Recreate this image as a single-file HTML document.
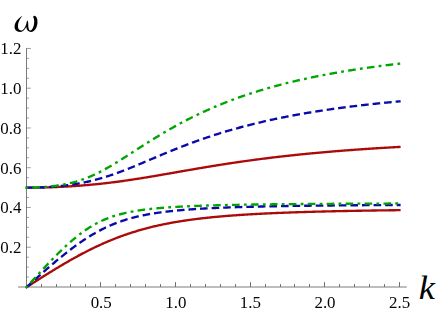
<!DOCTYPE html>
<html><head><meta charset="utf-8"><title>plot</title>
<style>
html,body{margin:0;padding:0;background:#fff;}
body{width:436px;height:311px;overflow:hidden;}
svg{display:block;}
text{font-family:"Liberation Serif",serif;fill:#000;}
</style></head><body>
<svg width="436" height="311" viewBox="0 0 436 311">
<rect width="436" height="311" fill="#fff"/>
<g stroke="#7c7c7c" stroke-width="1" fill="none">
<line x1="18.0" y1="287.0" x2="406.8" y2="287.0"/>
<line x1="26.5" y1="48.2" x2="26.5" y2="288.6"/>
</g>
<g stroke="#666" stroke-width="0.65" fill="none">
<line stroke="#707070" stroke-width="1" x1="41.50" y1="287.0" x2="41.50" y2="284.1"/>
<line stroke="#707070" stroke-width="1" x1="56.50" y1="287.0" x2="56.50" y2="284.1"/>
<line stroke="#707070" stroke-width="1" x1="70.50" y1="287.0" x2="70.50" y2="284.1"/>
<line stroke="#707070" stroke-width="1" x1="85.50" y1="287.0" x2="85.50" y2="284.1"/>
<line stroke="#707070" stroke-width="1" x1="100.50" y1="287.0" x2="100.50" y2="282.1"/>
<line stroke="#707070" stroke-width="1" x1="115.50" y1="287.0" x2="115.50" y2="284.1"/>
<line stroke="#707070" stroke-width="1" x1="130.50" y1="287.0" x2="130.50" y2="284.1"/>
<line stroke="#707070" stroke-width="1" x1="145.50" y1="287.0" x2="145.50" y2="284.1"/>
<line stroke="#707070" stroke-width="1" x1="160.50" y1="287.0" x2="160.50" y2="284.1"/>
<line stroke="#707070" stroke-width="1" x1="175.50" y1="287.0" x2="175.50" y2="282.1"/>
<line stroke="#707070" stroke-width="1" x1="190.50" y1="287.0" x2="190.50" y2="284.1"/>
<line stroke="#707070" stroke-width="1" x1="205.50" y1="287.0" x2="205.50" y2="284.1"/>
<line stroke="#707070" stroke-width="1" x1="220.50" y1="287.0" x2="220.50" y2="284.1"/>
<line stroke="#707070" stroke-width="1" x1="235.50" y1="287.0" x2="235.50" y2="284.1"/>
<line stroke="#707070" stroke-width="1" x1="250.50" y1="287.0" x2="250.50" y2="282.1"/>
<line stroke="#707070" stroke-width="1" x1="265.50" y1="287.0" x2="265.50" y2="284.1"/>
<line stroke="#707070" stroke-width="1" x1="280.50" y1="287.0" x2="280.50" y2="284.1"/>
<line stroke="#707070" stroke-width="1" x1="294.50" y1="287.0" x2="294.50" y2="284.1"/>
<line stroke="#707070" stroke-width="1" x1="309.50" y1="287.0" x2="309.50" y2="284.1"/>
<line stroke="#707070" stroke-width="1" x1="324.50" y1="287.0" x2="324.50" y2="282.1"/>
<line stroke="#707070" stroke-width="1" x1="339.50" y1="287.0" x2="339.50" y2="284.1"/>
<line stroke="#707070" stroke-width="1" x1="354.50" y1="287.0" x2="354.50" y2="284.1"/>
<line stroke="#707070" stroke-width="1" x1="369.50" y1="287.0" x2="369.50" y2="284.1"/>
<line stroke="#707070" stroke-width="1" x1="384.50" y1="287.0" x2="384.50" y2="284.1"/>
<line stroke="#707070" stroke-width="1" x1="399.50" y1="287.0" x2="399.50" y2="282.1"/>
<line x1="26.5" y1="277.06" x2="28.8" y2="277.06"/>
<line x1="26.5" y1="267.12" x2="28.8" y2="267.12"/>
<line x1="26.5" y1="257.18" x2="28.8" y2="257.18"/>
<line x1="26.5" y1="247.24" x2="30.8" y2="247.24"/>
<line x1="26.5" y1="237.30" x2="28.8" y2="237.30"/>
<line x1="26.5" y1="227.36" x2="28.8" y2="227.36"/>
<line x1="26.5" y1="217.42" x2="28.8" y2="217.42"/>
<line x1="26.5" y1="207.48" x2="30.8" y2="207.48"/>
<line x1="26.5" y1="197.54" x2="28.8" y2="197.54"/>
<line x1="26.5" y1="187.60" x2="28.8" y2="187.60"/>
<line x1="26.5" y1="177.66" x2="28.8" y2="177.66"/>
<line x1="26.5" y1="167.72" x2="30.8" y2="167.72"/>
<line x1="26.5" y1="157.78" x2="28.8" y2="157.78"/>
<line x1="26.5" y1="147.84" x2="28.8" y2="147.84"/>
<line x1="26.5" y1="137.90" x2="28.8" y2="137.90"/>
<line x1="26.5" y1="127.96" x2="30.8" y2="127.96"/>
<line x1="26.5" y1="118.02" x2="28.8" y2="118.02"/>
<line x1="26.5" y1="108.08" x2="28.8" y2="108.08"/>
<line x1="26.5" y1="98.14" x2="28.8" y2="98.14"/>
<line x1="26.5" y1="88.20" x2="30.8" y2="88.20"/>
<line x1="26.5" y1="78.26" x2="28.8" y2="78.26"/>
<line x1="26.5" y1="68.32" x2="28.8" y2="68.32"/>
<line x1="26.5" y1="58.38" x2="28.8" y2="58.38"/>
<line x1="26.5" y1="48.44" x2="30.8" y2="48.44"/>
</g>
<g font-size="17.4" opacity="0.99">
<text transform="translate(21.5,253.14) scale(0.972,1)" text-anchor="end">0.2</text>
<text transform="translate(21.5,213.38) scale(0.972,1)" text-anchor="end">0.4</text>
<text transform="translate(21.5,173.62) scale(0.972,1)" text-anchor="end">0.6</text>
<text transform="translate(21.5,133.86) scale(0.972,1)" text-anchor="end">0.8</text>
<text transform="translate(21.5,94.10) scale(0.972,1)" text-anchor="end">1.0</text>
<text transform="translate(21.5,54.34) scale(0.972,1)" text-anchor="end">1.2</text>
<text transform="translate(101.20,307.6) scale(0.972,1)" text-anchor="middle">0.5</text>
<text transform="translate(175.80,307.6) scale(0.972,1)" text-anchor="middle">1.0</text>
<text transform="translate(250.40,307.6) scale(0.972,1)" text-anchor="middle">1.5</text>
<text transform="translate(325.00,307.6) scale(0.972,1)" text-anchor="middle">2.0</text>
<text transform="translate(399.60,307.6) scale(0.972,1)" text-anchor="middle">2.5</text>
</g>
<g opacity="0.99" font-size="33" font-style="italic" text-anchor="middle">
<text transform="translate(426.8,299.2) scale(1.10,1)">k</text>
</g>
<g transform="translate(8,8) scale(0.096386)">
<path fill="#000" d="M150,84 C105,105 68,150 68,195 C68,228 92,248 122,248 C150,248 172,228 190,196 C192,225 210,248 238,248 C280,248 306,195 306,145 C306,110 296,88 282,82 C270,78 258,88 262,98 C268,102 272,115 272,140 C272,185 252,234 232,234 C216,234 210,200 210,165 C210,150 208,138 203,130 C198,130 194,140 192,155 C184,195 160,234 135,234 C112,234 103,212 103,188 C103,150 125,110 150,84 Z"/>
</g>
<g stroke-linecap="butt" stroke-linejoin="round">
<path d="M26.70,287.05 L27.63,286.45 L28.57,285.86 L29.50,285.26 L30.44,284.66 L31.37,284.06 L32.31,283.47 L33.24,282.87 L34.18,282.28 L35.11,281.68 L36.05,281.09 L36.98,280.49 L37.92,279.90 L38.85,279.31 L39.79,278.72 L40.72,278.12 L41.66,277.53 L42.59,276.95 L43.53,276.36 L44.46,275.77 L45.40,275.19 L46.33,274.60 L47.27,274.02 L48.20,273.44 L49.14,272.86 L50.07,272.28 L51.01,271.70 L51.94,271.13 L52.88,270.56 L53.81,269.98 L54.75,269.41 L55.68,268.85 L56.61,268.28 L57.55,267.72 L58.48,267.15 L59.42,266.59 L60.35,266.04 L61.29,265.48 L62.22,264.93 L63.16,264.38 L64.09,263.83 L65.03,263.28 L65.96,262.74 L66.90,262.19 L67.83,261.66 L68.77,261.12 L69.70,260.58 L70.64,260.05 L71.57,259.53 L72.51,259.00 L73.44,258.48 L74.38,257.96 L75.31,257.44 L76.25,256.93 L77.18,256.41 L78.12,255.91 L79.05,255.40 L79.99,254.90 L80.92,254.40 L81.86,253.90 L82.79,253.41 L83.73,252.92 L84.66,252.44 L85.59,251.95 L86.53,251.47 L87.46,251.00 L88.40,250.53 L89.33,250.06 L90.27,249.59 L91.20,249.13 L92.14,248.67 L93.07,248.21 L94.01,247.76 L94.94,247.31 L95.88,246.87 L96.81,246.43 L97.75,245.99 L98.68,245.56 L99.62,245.13 L100.55,244.70 L101.49,244.28 L102.42,243.86 L103.36,243.44 L104.29,243.03 L105.23,242.62 L106.16,242.22 L107.10,241.82 L108.03,241.42 L108.97,241.03 L109.90,240.64 L110.84,240.26 L111.77,239.87 L112.71,239.50 L113.64,239.12 L114.57,238.75 L115.51,238.39 L116.44,238.02 L117.38,237.66 L118.31,237.31 L119.25,236.96 L120.18,236.61 L121.12,236.27 L122.05,235.93 L122.99,235.59 L123.92,235.26 L124.86,234.93 L125.79,234.60 L126.73,234.28 L127.66,233.96 L128.60,233.65 L129.53,233.34 L130.47,233.03 L131.40,232.73 L132.34,232.43 L133.27,232.13 L134.21,231.84 L135.14,231.55 L136.08,231.27 L137.01,230.99 L137.95,230.71 L138.88,230.43 L139.82,230.16 L140.75,229.89 L141.68,229.63 L142.62,229.37 L143.55,229.11 L144.49,228.85 L145.42,228.60 L146.36,228.35 L147.29,228.11 L148.23,227.87 L149.16,227.63 L150.10,227.39 L151.03,227.16 L151.97,226.93 L152.90,226.71 L153.84,226.48 L154.77,226.26 L155.71,226.05 L156.64,225.83 L157.58,225.62 L158.51,225.41 L159.45,225.21 L160.38,225.00 L161.32,224.80 L162.25,224.61 L163.19,224.41 L164.12,224.22 L165.06,224.03 L165.99,223.84 L166.93,223.66 L167.86,223.48 L168.80,223.30 L169.73,223.12 L170.66,222.95 L171.60,222.78 L172.53,222.61 L173.47,222.44 L174.40,222.28 L175.34,222.11 L176.27,221.95 L177.21,221.80 L178.14,221.64 L179.08,221.49 L180.01,221.34 L180.95,221.19 L181.88,221.04 L182.82,220.89 L183.75,220.75 L184.69,220.61 L185.62,220.47 L186.56,220.34 L187.49,220.20 L188.43,220.07 L189.36,219.94 L190.30,219.81 L191.23,219.68 L192.17,219.55 L193.10,219.43 L194.04,219.31 L194.97,219.19 L195.91,219.07 L196.84,218.95 L197.78,218.83 L198.71,218.72 L199.64,218.61 L200.58,218.50 L201.51,218.39 L202.45,218.28 L203.38,218.17 L204.32,218.07 L205.25,217.97 L206.19,217.86 L207.12,217.76 L208.06,217.66 L208.99,217.57 L209.93,217.47 L210.86,217.37 L211.80,217.28 L212.73,217.19 L213.67,217.10 L214.60,217.01 L215.54,216.92 L216.47,216.83 L217.41,216.74 L218.34,216.66 L219.28,216.57 L220.21,216.49 L221.15,216.41 L222.08,216.33 L223.02,216.25 L223.95,216.17 L224.89,216.09 L225.82,216.01 L226.76,215.94 L227.69,215.86 L228.62,215.79 L229.56,215.72 L230.49,215.65 L231.43,215.57 L232.36,215.50 L233.30,215.44 L234.23,215.37 L235.17,215.30 L236.10,215.23 L237.04,215.17 L237.97,215.10 L238.91,215.04 L239.84,214.98 L240.78,214.91 L241.71,214.85 L242.65,214.79 L243.58,214.73 L244.52,214.67 L245.45,214.61 L246.39,214.56 L247.32,214.50 L248.26,214.44 L249.19,214.39 L250.13,214.33 L251.06,214.28 L252.00,214.22 L252.93,214.17 L253.87,214.12 L254.80,214.07 L255.74,214.01 L256.67,213.96 L257.60,213.91 L258.54,213.86 L259.47,213.82 L260.41,213.77 L261.34,213.72 L262.28,213.67 L263.21,213.63 L264.15,213.58 L265.08,213.53 L266.02,213.49 L266.95,213.45 L267.89,213.40 L268.82,213.36 L269.76,213.32 L270.69,213.27 L271.63,213.23 L272.56,213.19 L273.50,213.15 L274.43,213.11 L275.37,213.07 L276.30,213.03 L277.24,212.99 L278.17,212.95 L279.11,212.91 L280.04,212.87 L280.98,212.84 L281.91,212.80 L282.85,212.76 L283.78,212.73 L284.72,212.69 L285.65,212.66 L286.58,212.62 L287.52,212.59 L288.45,212.55 L289.39,212.52 L290.32,212.48 L291.26,212.45 L292.19,212.42 L293.13,212.39 L294.06,212.35 L295.00,212.32 L295.93,212.29 L296.87,212.26 L297.80,212.23 L298.74,212.20 L299.67,212.17 L300.61,212.14 L301.54,212.11 L302.48,212.08 L303.41,212.05 L304.35,212.02 L305.28,211.99 L306.22,211.97 L307.15,211.94 L308.09,211.91 L309.02,211.88 L309.96,211.86 L310.89,211.83 L311.83,211.80 L312.76,211.78 L313.69,211.75 L314.63,211.73 L315.56,211.70 L316.50,211.67 L317.43,211.65 L318.37,211.63 L319.30,211.60 L320.24,211.58 L321.17,211.55 L322.11,211.53 L323.04,211.51 L323.98,211.48 L324.91,211.46 L325.85,211.44 L326.78,211.41 L327.72,211.39 L328.65,211.37 L329.59,211.35 L330.52,211.33 L331.46,211.30 L332.39,211.28 L333.33,211.26 L334.26,211.24 L335.20,211.22 L336.13,211.20 L337.07,211.18 L338.00,211.16 L338.94,211.14 L339.87,211.12 L340.81,211.10 L341.74,211.08 L342.67,211.06 L343.61,211.04 L344.54,211.02 L345.48,211.00 L346.41,210.99 L347.35,210.97 L348.28,210.95 L349.22,210.93 L350.15,210.91 L351.09,210.89 L352.02,210.88 L352.96,210.86 L353.89,210.84 L354.83,210.83 L355.76,210.81 L356.70,210.79 L357.63,210.77 L358.57,210.76 L359.50,210.74 L360.44,210.73 L361.37,210.71 L362.31,210.69 L363.24,210.68 L364.18,210.66 L365.11,210.65 L366.05,210.63 L366.98,210.62 L367.92,210.60 L368.85,210.58 L369.79,210.57 L370.72,210.56 L371.65,210.54 L372.59,210.53 L373.52,210.51 L374.46,210.50 L375.39,210.48 L376.33,210.47 L377.26,210.45 L378.20,210.44 L379.13,210.43 L380.07,210.41 L381.00,210.40 L381.94,210.39 L382.87,210.37 L383.81,210.36 L384.74,210.35 L385.68,210.33 L386.61,210.32 L387.55,210.31 L388.48,210.30 L389.42,210.28 L390.35,210.27 L391.29,210.26 L392.22,210.25 L393.16,210.23 L394.09,210.22 L395.03,210.21 L395.96,210.20 L396.90,210.19 L397.83,210.17 L398.77,210.16 L399.70,210.15 L400.60,210.14" fill="none" stroke="#aa0a0a" stroke-width="2.35" />
<path d="M26.70,187.65 L27.63,187.65 L28.57,187.65 L29.50,187.64 L30.44,187.64 L31.37,187.64 L32.31,187.63 L33.24,187.62 L34.18,187.61 L35.11,187.60 L36.05,187.59 L36.98,187.58 L37.92,187.56 L38.85,187.55 L39.79,187.53 L40.72,187.52 L41.66,187.50 L42.59,187.48 L43.53,187.46 L44.46,187.43 L45.40,187.41 L46.33,187.39 L47.27,187.36 L48.20,187.33 L49.14,187.30 L50.07,187.27 L51.01,187.24 L51.94,187.21 L52.88,187.18 L53.81,187.14 L54.75,187.11 L55.68,187.07 L56.61,187.03 L57.55,186.99 L58.48,186.95 L59.42,186.91 L60.35,186.87 L61.29,186.82 L62.22,186.78 L63.16,186.73 L64.09,186.68 L65.03,186.63 L65.96,186.58 L66.90,186.53 L67.83,186.47 L68.77,186.42 L69.70,186.36 L70.64,186.30 L71.57,186.24 L72.51,186.18 L73.44,186.12 L74.38,186.06 L75.31,186.00 L76.25,185.93 L77.18,185.86 L78.12,185.80 L79.05,185.73 L79.99,185.66 L80.92,185.58 L81.86,185.51 L82.79,185.44 L83.73,185.36 L84.66,185.28 L85.59,185.20 L86.53,185.12 L87.46,185.04 L88.40,184.96 L89.33,184.87 L90.27,184.79 L91.20,184.70 L92.14,184.61 L93.07,184.52 L94.01,184.43 L94.94,184.34 L95.88,184.25 L96.81,184.15 L97.75,184.06 L98.68,183.96 L99.62,183.86 L100.55,183.76 L101.49,183.66 L102.42,183.55 L103.36,183.45 L104.29,183.34 L105.23,183.24 L106.16,183.13 L107.10,183.02 L108.03,182.91 L108.97,182.80 L109.90,182.68 L110.84,182.57 L111.77,182.45 L112.71,182.34 L113.64,182.22 L114.57,182.10 L115.51,181.98 L116.44,181.85 L117.38,181.73 L118.31,181.61 L119.25,181.48 L120.18,181.35 L121.12,181.23 L122.05,181.10 L122.99,180.97 L123.92,180.83 L124.86,180.70 L125.79,180.57 L126.73,180.43 L127.66,180.30 L128.60,180.16 L129.53,180.02 L130.47,179.88 L131.40,179.74 L132.34,179.60 L133.27,179.46 L134.21,179.32 L135.14,179.17 L136.08,179.03 L137.01,178.88 L137.95,178.74 L138.88,178.59 L139.82,178.44 L140.75,178.29 L141.68,178.14 L142.62,177.99 L143.55,177.84 L144.49,177.69 L145.42,177.54 L146.36,177.38 L147.29,177.23 L148.23,177.08 L149.16,176.92 L150.10,176.76 L151.03,176.61 L151.97,176.45 L152.90,176.29 L153.84,176.14 L154.77,175.98 L155.71,175.82 L156.64,175.66 L157.58,175.50 L158.51,175.34 L159.45,175.18 L160.38,175.02 L161.32,174.86 L162.25,174.69 L163.19,174.53 L164.12,174.37 L165.06,174.21 L165.99,174.05 L166.93,173.88 L167.86,173.72 L168.80,173.56 L169.73,173.39 L170.66,173.23 L171.60,173.07 L172.53,172.90 L173.47,172.74 L174.40,172.57 L175.34,172.41 L176.27,172.25 L177.21,172.08 L178.14,171.92 L179.08,171.76 L180.01,171.59 L180.95,171.43 L181.88,171.27 L182.82,171.10 L183.75,170.94 L184.69,170.78 L185.62,170.61 L186.56,170.45 L187.49,170.29 L188.43,170.13 L189.36,169.96 L190.30,169.80 L191.23,169.64 L192.17,169.48 L193.10,169.32 L194.04,169.16 L194.97,169.00 L195.91,168.84 L196.84,168.68 L197.78,168.52 L198.71,168.36 L199.64,168.20 L200.58,168.04 L201.51,167.89 L202.45,167.73 L203.38,167.57 L204.32,167.42 L205.25,167.26 L206.19,167.10 L207.12,166.95 L208.06,166.79 L208.99,166.64 L209.93,166.49 L210.86,166.33 L211.80,166.18 L212.73,166.03 L213.67,165.88 L214.60,165.73 L215.54,165.57 L216.47,165.42 L217.41,165.28 L218.34,165.13 L219.28,164.98 L220.21,164.83 L221.15,164.68 L222.08,164.54 L223.02,164.39 L223.95,164.24 L224.89,164.10 L225.82,163.95 L226.76,163.81 L227.69,163.67 L228.62,163.53 L229.56,163.38 L230.49,163.24 L231.43,163.10 L232.36,162.96 L233.30,162.82 L234.23,162.68 L235.17,162.54 L236.10,162.41 L237.04,162.27 L237.97,162.13 L238.91,162.00 L239.84,161.86 L240.78,161.73 L241.71,161.59 L242.65,161.46 L243.58,161.33 L244.52,161.20 L245.45,161.07 L246.39,160.94 L247.32,160.81 L248.26,160.68 L249.19,160.55 L250.13,160.42 L251.06,160.29 L252.00,160.17 L252.93,160.04 L253.87,159.91 L254.80,159.79 L255.74,159.66 L256.67,159.54 L257.60,159.42 L258.54,159.30 L259.47,159.17 L260.41,159.05 L261.34,158.93 L262.28,158.81 L263.21,158.69 L264.15,158.58 L265.08,158.46 L266.02,158.34 L266.95,158.22 L267.89,158.11 L268.82,157.99 L269.76,157.88 L270.69,157.76 L271.63,157.65 L272.56,157.54 L273.50,157.43 L274.43,157.31 L275.37,157.20 L276.30,157.09 L277.24,156.98 L278.17,156.87 L279.11,156.77 L280.04,156.66 L280.98,156.55 L281.91,156.44 L282.85,156.34 L283.78,156.23 L284.72,156.13 L285.65,156.02 L286.58,155.92 L287.52,155.82 L288.45,155.71 L289.39,155.61 L290.32,155.51 L291.26,155.41 L292.19,155.31 L293.13,155.21 L294.06,155.11 L295.00,155.01 L295.93,154.91 L296.87,154.82 L297.80,154.72 L298.74,154.62 L299.67,154.53 L300.61,154.43 L301.54,154.34 L302.48,154.24 L303.41,154.15 L304.35,154.06 L305.28,153.96 L306.22,153.87 L307.15,153.78 L308.09,153.69 L309.02,153.60 L309.96,153.51 L310.89,153.42 L311.83,153.33 L312.76,153.24 L313.69,153.15 L314.63,153.07 L315.56,152.98 L316.50,152.89 L317.43,152.81 L318.37,152.72 L319.30,152.64 L320.24,152.55 L321.17,152.47 L322.11,152.39 L323.04,152.30 L323.98,152.22 L324.91,152.14 L325.85,152.06 L326.78,151.98 L327.72,151.90 L328.65,151.82 L329.59,151.74 L330.52,151.66 L331.46,151.58 L332.39,151.50 L333.33,151.42 L334.26,151.35 L335.20,151.27 L336.13,151.19 L337.07,151.12 L338.00,151.04 L338.94,150.97 L339.87,150.89 L340.81,150.82 L341.74,150.74 L342.67,150.67 L343.61,150.60 L344.54,150.53 L345.48,150.45 L346.41,150.38 L347.35,150.31 L348.28,150.24 L349.22,150.17 L350.15,150.10 L351.09,150.03 L352.02,149.96 L352.96,149.89 L353.89,149.82 L354.83,149.75 L355.76,149.69 L356.70,149.62 L357.63,149.55 L358.57,149.49 L359.50,149.42 L360.44,149.35 L361.37,149.29 L362.31,149.22 L363.24,149.16 L364.18,149.10 L365.11,149.03 L366.05,148.97 L366.98,148.91 L367.92,148.84 L368.85,148.78 L369.79,148.72 L370.72,148.66 L371.65,148.60 L372.59,148.53 L373.52,148.47 L374.46,148.41 L375.39,148.35 L376.33,148.29 L377.26,148.23 L378.20,148.18 L379.13,148.12 L380.07,148.06 L381.00,148.00 L381.94,147.94 L382.87,147.89 L383.81,147.83 L384.74,147.77 L385.68,147.72 L386.61,147.66 L387.55,147.60 L388.48,147.55 L389.42,147.49 L390.35,147.44 L391.29,147.38 L392.22,147.33 L393.16,147.28 L394.09,147.22 L395.03,147.17 L395.96,147.12 L396.90,147.06 L397.83,147.01 L398.77,146.96 L399.70,146.91 L400.60,146.86" fill="none" stroke="#aa0a0a" stroke-width="2.35" />
<path d="M26.25,287.45 L26.70,287.05 L27.63,286.21 L28.57,285.36 L29.50,284.52 L30.44,283.67 L31.37,282.83 L32.31,281.98 L33.24,281.14 L34.18,280.30 L35.11,279.46 L36.05,278.62 L36.98,277.78 L37.92,276.95 L38.85,276.11 L39.79,275.28 L40.72,274.44 L41.66,273.61 L42.59,272.79 L43.53,271.96 L44.46,271.14 L45.40,270.31 L46.33,269.49 L47.27,268.68 L48.20,267.86 L49.14,267.05 L50.07,266.24 L51.01,265.44 L51.94,264.64 L52.88,263.84 L53.81,263.04 L54.75,262.25 L55.68,261.46 L56.61,260.68 L57.55,259.90 L58.48,259.12 L59.42,258.35 L60.35,257.58 L61.29,256.82 L62.22,256.06 L63.16,255.30 L64.09,254.55 L65.03,253.81 L65.96,253.07 L66.90,252.33 L67.83,251.60 L68.77,250.88 L69.70,250.16 L70.64,249.45 L71.57,248.74 L72.51,248.04 L73.44,247.34 L74.38,246.65 L75.31,245.97 L76.25,245.29 L77.18,244.62 L78.12,243.95 L79.05,243.29 L79.99,242.64 L80.92,241.99 L81.86,241.35 L82.79,240.72 L83.73,240.10 L84.66,239.48 L85.59,238.87 L86.53,238.26 L87.46,237.67 L88.40,237.08 L89.33,236.50 L90.27,235.92 L91.20,235.35 L92.14,234.80 L93.07,234.24 L94.01,233.70 L94.94,233.16 L95.88,232.63 L96.81,232.11 L97.75,231.60 L98.68,231.09 L99.62,230.60 L100.55,230.11 L101.49,229.62 L102.42,229.15 L103.36,228.68 L104.29,228.23 L105.23,227.77 L106.16,227.33 L107.10,226.90 L108.03,226.47 L108.97,226.05 L109.90,225.64 L110.84,225.23 L111.77,224.84 L112.71,224.45 L113.64,224.06 L114.57,223.69 L115.51,223.32 L116.44,222.96 L117.38,222.61 L118.31,222.26 L119.25,221.92 L120.18,221.59 L121.12,221.27 L122.05,220.95 L122.99,220.64 L123.92,220.33 L124.86,220.03 L125.79,219.74 L126.73,219.45 L127.66,219.17 L128.60,218.90 L129.53,218.63 L130.47,218.37 L131.40,218.11 L132.34,217.86 L133.27,217.61 L134.21,217.37 L135.14,217.14 L136.08,216.91 L137.01,216.68 L137.95,216.46 L138.88,216.25 L139.82,216.04 L140.75,215.83 L141.68,215.63 L142.62,215.44 L143.55,215.24 L144.49,215.06 L145.42,214.87 L146.36,214.69 L147.29,214.52 L148.23,214.34 L149.16,214.18 L150.10,214.01 L151.03,213.85 L151.97,213.69 L152.90,213.54 L153.84,213.39 L154.77,213.24 L155.71,213.10 L156.64,212.96 L157.58,212.82 L158.51,212.68 L159.45,212.55 L160.38,212.42 L161.32,212.30 L162.25,212.17 L163.19,212.05 L164.12,211.93 L165.06,211.82 L165.99,211.70 L166.93,211.59 L167.86,211.48 L168.80,211.37 L169.73,211.27 L170.66,211.17 L171.60,211.07 L172.53,210.97 L173.47,210.87 L174.40,210.78 L175.34,210.68 L176.27,210.59 L177.21,210.50 L178.14,210.42 L179.08,210.33 L180.01,210.25 L180.95,210.17 L181.88,210.08 L182.82,210.01 L183.75,209.93 L184.69,209.85 L185.62,209.78 L186.56,209.70 L187.49,209.63 L188.43,209.56 L189.36,209.49 L190.30,209.42 L191.23,209.36 L192.17,209.29 L193.10,209.23 L194.04,209.16 L194.97,209.10 L195.91,209.04 L196.84,208.98 L197.78,208.92 L198.71,208.86 L199.64,208.81 L200.58,208.75 L201.51,208.70 L202.45,208.64 L203.38,208.59 L204.32,208.54 L205.25,208.49 L206.19,208.44 L207.12,208.39 L208.06,208.34 L208.99,208.29 L209.93,208.24 L210.86,208.20 L211.80,208.15 L212.73,208.11 L213.67,208.06 L214.60,208.02 L215.54,207.98 L216.47,207.94 L217.41,207.90 L218.34,207.85 L219.28,207.82 L220.21,207.78 L221.15,207.74 L222.08,207.70 L223.02,207.66 L223.95,207.62 L224.89,207.59 L225.82,207.55 L226.76,207.52 L227.69,207.48 L228.62,207.45 L229.56,207.41 L230.49,207.38 L231.43,207.35 L232.36,207.32 L233.30,207.28 L234.23,207.25 L235.17,207.22 L236.10,207.19 L237.04,207.16 L237.97,207.13 L238.91,207.10 L239.84,207.08 L240.78,207.05 L241.71,207.02 L242.65,206.99 L243.58,206.96 L244.52,206.94 L245.45,206.91 L246.39,206.89 L247.32,206.86 L248.26,206.83 L249.19,206.81 L250.13,206.78 L251.06,206.76 L252.00,206.74 L252.93,206.71 L253.87,206.69 L254.80,206.67 L255.74,206.64 L256.67,206.62 L257.60,206.60 L258.54,206.58 L259.47,206.56 L260.41,206.53 L261.34,206.51 L262.28,206.49 L263.21,206.47 L264.15,206.45 L265.08,206.43 L266.02,206.41 L266.95,206.39 L267.89,206.37 L268.82,206.35 L269.76,206.34 L270.69,206.32 L271.63,206.30 L272.56,206.28 L273.50,206.26 L274.43,206.25 L275.37,206.23 L276.30,206.21 L277.24,206.19 L278.17,206.18 L279.11,206.16 L280.04,206.14 L280.98,206.13 L281.91,206.11 L282.85,206.10 L283.78,206.08 L284.72,206.07 L285.65,206.05 L286.58,206.03 L287.52,206.02 L288.45,206.00 L289.39,205.99 L290.32,205.98 L291.26,205.96 L292.19,205.95 L293.13,205.93 L294.06,205.92 L295.00,205.91 L295.93,205.89 L296.87,205.88 L297.80,205.87 L298.74,205.85 L299.67,205.84 L300.61,205.83 L301.54,205.81 L302.48,205.80 L303.41,205.79 L304.35,205.78 L305.28,205.77 L306.22,205.75 L307.15,205.74 L308.09,205.73 L309.02,205.72 L309.96,205.71 L310.89,205.70 L311.83,205.68 L312.76,205.67 L313.69,205.66 L314.63,205.65 L315.56,205.64 L316.50,205.63 L317.43,205.62 L318.37,205.61 L319.30,205.60 L320.24,205.59 L321.17,205.58 L322.11,205.57 L323.04,205.56 L323.98,205.55 L324.91,205.54 L325.85,205.53 L326.78,205.52 L327.72,205.51 L328.65,205.50 L329.59,205.49 L330.52,205.48 L331.46,205.47 L332.39,205.46 L333.33,205.45 L334.26,205.45 L335.20,205.44 L336.13,205.43 L337.07,205.42 L338.00,205.41 L338.94,205.40 L339.87,205.39 L340.81,205.39 L341.74,205.38 L342.67,205.37 L343.61,205.36 L344.54,205.35 L345.48,205.35 L346.41,205.34 L347.35,205.33 L348.28,205.32 L349.22,205.31 L350.15,205.31 L351.09,205.30 L352.02,205.29 L352.96,205.28 L353.89,205.28 L354.83,205.27 L355.76,205.26 L356.70,205.26 L357.63,205.25 L358.57,205.24 L359.50,205.23 L360.44,205.23 L361.37,205.22 L362.31,205.21 L363.24,205.21 L364.18,205.20 L365.11,205.19 L366.05,205.19 L366.98,205.18 L367.92,205.18 L368.85,205.17 L369.79,205.16 L370.72,205.16 L371.65,205.15 L372.59,205.14 L373.52,205.14 L374.46,205.13 L375.39,205.13 L376.33,205.12 L377.26,205.11 L378.20,205.11 L379.13,205.10 L380.07,205.10 L381.00,205.09 L381.94,205.09 L382.87,205.08 L383.81,205.07 L384.74,205.07 L385.68,205.06 L386.61,205.06 L387.55,205.05 L388.48,205.05 L389.42,205.04 L390.35,205.04 L391.29,205.03 L392.22,205.03 L393.16,205.02 L394.09,205.02 L395.03,205.01 L395.96,205.01 L396.90,205.00 L397.83,205.00 L398.77,204.99 L399.70,204.99 L400.60,204.98" fill="none" stroke="#0a0aaa" stroke-width="2.35" stroke-dasharray="7.6 3.97"/>
<path d="M26.10,187.65 L26.70,187.65 L27.63,187.65 L28.57,187.65 L29.50,187.64 L30.44,187.63 L31.37,187.62 L32.31,187.61 L33.24,187.59 L34.18,187.57 L35.11,187.55 L36.05,187.53 L36.98,187.50 L37.92,187.48 L38.85,187.45 L39.79,187.41 L40.72,187.38 L41.66,187.34 L42.59,187.30 L43.53,187.26 L44.46,187.21 L45.40,187.16 L46.33,187.11 L47.27,187.06 L48.20,187.00 L49.14,186.94 L50.07,186.88 L51.01,186.82 L51.94,186.75 L52.88,186.68 L53.81,186.61 L54.75,186.53 L55.68,186.45 L56.61,186.37 L57.55,186.29 L58.48,186.20 L59.42,186.11 L60.35,186.01 L61.29,185.92 L62.22,185.82 L63.16,185.71 L64.09,185.61 L65.03,185.50 L65.96,185.38 L66.90,185.27 L67.83,185.14 L68.77,185.02 L69.70,184.89 L70.64,184.76 L71.57,184.63 L72.51,184.49 L73.44,184.35 L74.38,184.20 L75.31,184.05 L76.25,183.90 L77.18,183.74 L78.12,183.58 L79.05,183.41 L79.99,183.24 L80.92,183.07 L81.86,182.89 L82.79,182.71 L83.73,182.52 L84.66,182.33 L85.59,182.13 L86.53,181.94 L87.46,181.73 L88.40,181.52 L89.33,181.31 L90.27,181.09 L91.20,180.87 L92.14,180.65 L93.07,180.42 L94.01,180.18 L94.94,179.94 L95.88,179.70 L96.81,179.45 L97.75,179.20 L98.68,178.94 L99.62,178.68 L100.55,178.41 L101.49,178.14 L102.42,177.87 L103.36,177.59 L104.29,177.30 L105.23,177.02 L106.16,176.72 L107.10,176.43 L108.03,176.13 L108.97,175.82 L109.90,175.51 L110.84,175.20 L111.77,174.88 L112.71,174.56 L113.64,174.24 L114.57,173.91 L115.51,173.58 L116.44,173.24 L117.38,172.90 L118.31,172.56 L119.25,172.22 L120.18,171.87 L121.12,171.52 L122.05,171.16 L122.99,170.81 L123.92,170.45 L124.86,170.08 L125.79,169.72 L126.73,169.35 L127.66,168.98 L128.60,168.61 L129.53,168.23 L130.47,167.86 L131.40,167.48 L132.34,167.10 L133.27,166.72 L134.21,166.33 L135.14,165.95 L136.08,165.56 L137.01,165.17 L137.95,164.78 L138.88,164.39 L139.82,164.00 L140.75,163.61 L141.68,163.22 L142.62,162.82 L143.55,162.43 L144.49,162.03 L145.42,161.64 L146.36,161.24 L147.29,160.85 L148.23,160.45 L149.16,160.05 L150.10,159.66 L151.03,159.26 L151.97,158.87 L152.90,158.47 L153.84,158.08 L154.77,157.68 L155.71,157.29 L156.64,156.89 L157.58,156.50 L158.51,156.10 L159.45,155.71 L160.38,155.32 L161.32,154.93 L162.25,154.54 L163.19,154.15 L164.12,153.76 L165.06,153.37 L165.99,152.99 L166.93,152.60 L167.86,152.22 L168.80,151.83 L169.73,151.45 L170.66,151.07 L171.60,150.69 L172.53,150.31 L173.47,149.94 L174.40,149.56 L175.34,149.19 L176.27,148.82 L177.21,148.45 L178.14,148.08 L179.08,147.71 L180.01,147.34 L180.95,146.98 L181.88,146.61 L182.82,146.25 L183.75,145.89 L184.69,145.53 L185.62,145.17 L186.56,144.82 L187.49,144.47 L188.43,144.11 L189.36,143.76 L190.30,143.41 L191.23,143.07 L192.17,142.72 L193.10,142.38 L194.04,142.04 L194.97,141.70 L195.91,141.36 L196.84,141.02 L197.78,140.69 L198.71,140.36 L199.64,140.03 L200.58,139.70 L201.51,139.37 L202.45,139.04 L203.38,138.72 L204.32,138.40 L205.25,138.08 L206.19,137.76 L207.12,137.44 L208.06,137.13 L208.99,136.82 L209.93,136.51 L210.86,136.20 L211.80,135.89 L212.73,135.58 L213.67,135.28 L214.60,134.98 L215.54,134.68 L216.47,134.38 L217.41,134.08 L218.34,133.79 L219.28,133.50 L220.21,133.21 L221.15,132.92 L222.08,132.63 L223.02,132.34 L223.95,132.06 L224.89,131.78 L225.82,131.50 L226.76,131.22 L227.69,130.94 L228.62,130.67 L229.56,130.39 L230.49,130.12 L231.43,129.85 L232.36,129.58 L233.30,129.32 L234.23,129.05 L235.17,128.79 L236.10,128.53 L237.04,128.27 L237.97,128.01 L238.91,127.75 L239.84,127.50 L240.78,127.25 L241.71,126.99 L242.65,126.74 L243.58,126.50 L244.52,126.25 L245.45,126.00 L246.39,125.76 L247.32,125.52 L248.26,125.28 L249.19,125.04 L250.13,124.80 L251.06,124.57 L252.00,124.33 L252.93,124.10 L253.87,123.87 L254.80,123.64 L255.74,123.41 L256.67,123.19 L257.60,122.96 L258.54,122.74 L259.47,122.52 L260.41,122.30 L261.34,122.08 L262.28,121.86 L263.21,121.64 L264.15,121.43 L265.08,121.21 L266.02,121.00 L266.95,120.79 L267.89,120.58 L268.82,120.38 L269.76,120.17 L270.69,119.96 L271.63,119.76 L272.56,119.56 L273.50,119.36 L274.43,119.16 L275.37,118.96 L276.30,118.76 L277.24,118.57 L278.17,118.37 L279.11,118.18 L280.04,117.99 L280.98,117.80 L281.91,117.61 L282.85,117.42 L283.78,117.23 L284.72,117.05 L285.65,116.86 L286.58,116.68 L287.52,116.50 L288.45,116.32 L289.39,116.14 L290.32,115.96 L291.26,115.78 L292.19,115.61 L293.13,115.43 L294.06,115.26 L295.00,115.08 L295.93,114.91 L296.87,114.74 L297.80,114.57 L298.74,114.40 L299.67,114.24 L300.61,114.07 L301.54,113.91 L302.48,113.74 L303.41,113.58 L304.35,113.42 L305.28,113.26 L306.22,113.10 L307.15,112.94 L308.09,112.78 L309.02,112.63 L309.96,112.47 L310.89,112.32 L311.83,112.16 L312.76,112.01 L313.69,111.86 L314.63,111.71 L315.56,111.56 L316.50,111.41 L317.43,111.26 L318.37,111.12 L319.30,110.97 L320.24,110.83 L321.17,110.68 L322.11,110.54 L323.04,110.40 L323.98,110.26 L324.91,110.12 L325.85,109.98 L326.78,109.84 L327.72,109.70 L328.65,109.57 L329.59,109.43 L330.52,109.30 L331.46,109.16 L332.39,109.03 L333.33,108.90 L334.26,108.77 L335.20,108.63 L336.13,108.50 L337.07,108.38 L338.00,108.25 L338.94,108.12 L339.87,107.99 L340.81,107.87 L341.74,107.74 L342.67,107.62 L343.61,107.50 L344.54,107.37 L345.48,107.25 L346.41,107.13 L347.35,107.01 L348.28,106.89 L349.22,106.77 L350.15,106.65 L351.09,106.54 L352.02,106.42 L352.96,106.30 L353.89,106.19 L354.83,106.07 L355.76,105.96 L356.70,105.85 L357.63,105.74 L358.57,105.62 L359.50,105.51 L360.44,105.40 L361.37,105.29 L362.31,105.18 L363.24,105.08 L364.18,104.97 L365.11,104.86 L366.05,104.76 L366.98,104.65 L367.92,104.55 L368.85,104.44 L369.79,104.34 L370.72,104.23 L371.65,104.13 L372.59,104.03 L373.52,103.93 L374.46,103.83 L375.39,103.73 L376.33,103.63 L377.26,103.53 L378.20,103.43 L379.13,103.33 L380.07,103.24 L381.00,103.14 L381.94,103.05 L382.87,102.95 L383.81,102.86 L384.74,102.76 L385.68,102.67 L386.61,102.57 L387.55,102.48 L388.48,102.39 L389.42,102.30 L390.35,102.21 L391.29,102.12 L392.22,102.03 L393.16,101.94 L394.09,101.85 L395.03,101.76 L395.96,101.67 L396.90,101.59 L397.83,101.50 L398.77,101.41 L399.70,101.33 L400.60,101.25" fill="none" stroke="#0a0aaa" stroke-width="2.35" stroke-dasharray="7.6 3.97"/>
<path d="M25.76,288.09 L26.70,287.05 L27.63,286.02 L28.57,284.98 L29.50,283.95 L30.44,282.91 L31.37,281.88 L32.31,280.85 L33.24,279.82 L34.18,278.79 L35.11,277.76 L36.05,276.73 L36.98,275.71 L37.92,274.69 L38.85,273.67 L39.79,272.65 L40.72,271.63 L41.66,270.62 L42.59,269.61 L43.53,268.61 L44.46,267.60 L45.40,266.60 L46.33,265.61 L47.27,264.62 L48.20,263.63 L49.14,262.65 L50.07,261.67 L51.01,260.70 L51.94,259.73 L52.88,258.77 L53.81,257.81 L54.75,256.86 L55.68,255.92 L56.61,254.98 L57.55,254.04 L58.48,253.12 L59.42,252.20 L60.35,251.29 L61.29,250.38 L62.22,249.48 L63.16,248.59 L64.09,247.71 L65.03,246.84 L65.96,245.97 L66.90,245.11 L67.83,244.26 L68.77,243.42 L69.70,242.59 L70.64,241.77 L71.57,240.96 L72.51,240.16 L73.44,239.37 L74.38,238.59 L75.31,237.82 L76.25,237.06 L77.18,236.31 L78.12,235.57 L79.05,234.84 L79.99,234.12 L80.92,233.42 L81.86,232.73 L82.79,232.04 L83.73,231.38 L84.66,230.72 L85.59,230.07 L86.53,229.44 L87.46,228.82 L88.40,228.21 L89.33,227.61 L90.27,227.02 L91.20,226.45 L92.14,225.89 L93.07,225.34 L94.01,224.81 L94.94,224.28 L95.88,223.77 L96.81,223.27 L97.75,222.79 L98.68,222.31 L99.62,221.85 L100.55,221.39 L101.49,220.95 L102.42,220.52 L103.36,220.10 L104.29,219.69 L105.23,219.30 L106.16,218.91 L107.10,218.54 L108.03,218.17 L108.97,217.81 L109.90,217.47 L110.84,217.13 L111.77,216.80 L112.71,216.49 L113.64,216.18 L114.57,215.88 L115.51,215.58 L116.44,215.30 L117.38,215.03 L118.31,214.76 L119.25,214.50 L120.18,214.24 L121.12,214.00 L122.05,213.76 L122.99,213.53 L123.92,213.30 L124.86,213.08 L125.79,212.87 L126.73,212.67 L127.66,212.46 L128.60,212.27 L129.53,212.08 L130.47,211.90 L131.40,211.72 L132.34,211.54 L133.27,211.37 L134.21,211.21 L135.14,211.05 L136.08,210.89 L137.01,210.74 L137.95,210.59 L138.88,210.45 L139.82,210.31 L140.75,210.17 L141.68,210.04 L142.62,209.91 L143.55,209.78 L144.49,209.66 L145.42,209.54 L146.36,209.43 L147.29,209.31 L148.23,209.20 L149.16,209.09 L150.10,208.99 L151.03,208.89 L151.97,208.79 L152.90,208.69 L153.84,208.59 L154.77,208.50 L155.71,208.41 L156.64,208.32 L157.58,208.24 L158.51,208.15 L159.45,208.07 L160.38,207.99 L161.32,207.91 L162.25,207.83 L163.19,207.76 L164.12,207.69 L165.06,207.62 L165.99,207.55 L166.93,207.48 L167.86,207.41 L168.80,207.34 L169.73,207.28 L170.66,207.22 L171.60,207.16 L172.53,207.10 L173.47,207.04 L174.40,206.98 L175.34,206.92 L176.27,206.87 L177.21,206.82 L178.14,206.76 L179.08,206.71 L180.01,206.66 L180.95,206.61 L181.88,206.56 L182.82,206.51 L183.75,206.47 L184.69,206.42 L185.62,206.38 L186.56,206.33 L187.49,206.29 L188.43,206.25 L189.36,206.21 L190.30,206.16 L191.23,206.12 L192.17,206.09 L193.10,206.05 L194.04,206.01 L194.97,205.97 L195.91,205.93 L196.84,205.90 L197.78,205.86 L198.71,205.83 L199.64,205.80 L200.58,205.76 L201.51,205.73 L202.45,205.70 L203.38,205.67 L204.32,205.63 L205.25,205.60 L206.19,205.57 L207.12,205.54 L208.06,205.52 L208.99,205.49 L209.93,205.46 L210.86,205.43 L211.80,205.40 L212.73,205.38 L213.67,205.35 L214.60,205.33 L215.54,205.30 L216.47,205.27 L217.41,205.25 L218.34,205.23 L219.28,205.20 L220.21,205.18 L221.15,205.16 L222.08,205.13 L223.02,205.11 L223.95,205.09 L224.89,205.07 L225.82,205.05 L226.76,205.02 L227.69,205.00 L228.62,204.98 L229.56,204.96 L230.49,204.94 L231.43,204.92 L232.36,204.90 L233.30,204.89 L234.23,204.87 L235.17,204.85 L236.10,204.83 L237.04,204.81 L237.97,204.80 L238.91,204.78 L239.84,204.76 L240.78,204.74 L241.71,204.73 L242.65,204.71 L243.58,204.69 L244.52,204.68 L245.45,204.66 L246.39,204.65 L247.32,204.63 L248.26,204.62 L249.19,204.60 L250.13,204.59 L251.06,204.57 L252.00,204.56 L252.93,204.54 L253.87,204.53 L254.80,204.52 L255.74,204.50 L256.67,204.49 L257.60,204.48 L258.54,204.46 L259.47,204.45 L260.41,204.44 L261.34,204.42 L262.28,204.41 L263.21,204.40 L264.15,204.39 L265.08,204.38 L266.02,204.36 L266.95,204.35 L267.89,204.34 L268.82,204.33 L269.76,204.32 L270.69,204.31 L271.63,204.30 L272.56,204.29 L273.50,204.28 L274.43,204.26 L275.37,204.25 L276.30,204.24 L277.24,204.23 L278.17,204.22 L279.11,204.21 L280.04,204.20 L280.98,204.19 L281.91,204.18 L282.85,204.17 L283.78,204.17 L284.72,204.16 L285.65,204.15 L286.58,204.14 L287.52,204.13 L288.45,204.12 L289.39,204.11 L290.32,204.10 L291.26,204.09 L292.19,204.09 L293.13,204.08 L294.06,204.07 L295.00,204.06 L295.93,204.05 L296.87,204.04 L297.80,204.04 L298.74,204.03 L299.67,204.02 L300.61,204.01 L301.54,204.01 L302.48,204.00 L303.41,203.99 L304.35,203.98 L305.28,203.98 L306.22,203.97 L307.15,203.96 L308.09,203.95 L309.02,203.95 L309.96,203.94 L310.89,203.93 L311.83,203.93 L312.76,203.92 L313.69,203.91 L314.63,203.91 L315.56,203.90 L316.50,203.89 L317.43,203.89 L318.37,203.88 L319.30,203.88 L320.24,203.87 L321.17,203.86 L322.11,203.86 L323.04,203.85 L323.98,203.84 L324.91,203.84 L325.85,203.83 L326.78,203.83 L327.72,203.82 L328.65,203.82 L329.59,203.81 L330.52,203.80 L331.46,203.80 L332.39,203.79 L333.33,203.79 L334.26,203.78 L335.20,203.78 L336.13,203.77 L337.07,203.77 L338.00,203.76 L338.94,203.76 L339.87,203.75 L340.81,203.75 L341.74,203.74 L342.67,203.74 L343.61,203.73 L344.54,203.73 L345.48,203.72 L346.41,203.72 L347.35,203.71 L348.28,203.71 L349.22,203.70 L350.15,203.70 L351.09,203.69 L352.02,203.69 L352.96,203.69 L353.89,203.68 L354.83,203.68 L355.76,203.67 L356.70,203.67 L357.63,203.66 L358.57,203.66 L359.50,203.66 L360.44,203.65 L361.37,203.65 L362.31,203.64 L363.24,203.64 L364.18,203.64 L365.11,203.63 L366.05,203.63 L366.98,203.62 L367.92,203.62 L368.85,203.62 L369.79,203.61 L370.72,203.61 L371.65,203.60 L372.59,203.60 L373.52,203.60 L374.46,203.59 L375.39,203.59 L376.33,203.59 L377.26,203.58 L378.20,203.58 L379.13,203.58 L380.07,203.57 L381.00,203.57 L381.94,203.57 L382.87,203.56 L383.81,203.56 L384.74,203.56 L385.68,203.55 L386.61,203.55 L387.55,203.55 L388.48,203.54 L389.42,203.54 L390.35,203.54 L391.29,203.53 L392.22,203.53 L393.16,203.53 L394.09,203.52 L395.03,203.52 L395.96,203.52 L396.90,203.51 L397.83,203.51 L398.77,203.51 L399.70,203.51 L400.60,203.50" fill="none" stroke="#00a500" stroke-width="2.35" stroke-dasharray="2.8 4.25 7.63 4.25"/>
<path d="M25.30,187.65 L26.70,187.65 L27.63,187.65 L28.57,187.64 L29.50,187.63 L30.44,187.62 L31.37,187.61 L32.31,187.59 L33.24,187.56 L34.18,187.53 L35.11,187.50 L36.05,187.47 L36.98,187.43 L37.92,187.39 L38.85,187.34 L39.79,187.29 L40.72,187.24 L41.66,187.18 L42.59,187.12 L43.53,187.05 L44.46,186.98 L45.40,186.91 L46.33,186.83 L47.27,186.75 L48.20,186.66 L49.14,186.57 L50.07,186.47 L51.01,186.37 L51.94,186.27 L52.88,186.16 L53.81,186.04 L54.75,185.92 L55.68,185.80 L56.61,185.67 L57.55,185.53 L58.48,185.39 L59.42,185.24 L60.35,185.09 L61.29,184.93 L62.22,184.77 L63.16,184.60 L64.09,184.42 L65.03,184.24 L65.96,184.05 L66.90,183.86 L67.83,183.65 L68.77,183.44 L69.70,183.23 L70.64,183.01 L71.57,182.78 L72.51,182.54 L73.44,182.29 L74.38,182.04 L75.31,181.78 L76.25,181.52 L77.18,181.24 L78.12,180.96 L79.05,180.67 L79.99,180.37 L80.92,180.06 L81.86,179.74 L82.79,179.42 L83.73,179.08 L84.66,178.74 L85.59,178.39 L86.53,178.03 L87.46,177.67 L88.40,177.29 L89.33,176.91 L90.27,176.52 L91.20,176.11 L92.14,175.70 L93.07,175.29 L94.01,174.86 L94.94,174.43 L95.88,173.98 L96.81,173.53 L97.75,173.08 L98.68,172.61 L99.62,172.14 L100.55,171.66 L101.49,171.17 L102.42,170.67 L103.36,170.17 L104.29,169.66 L105.23,169.15 L106.16,168.63 L107.10,168.10 L108.03,167.57 L108.97,167.03 L109.90,166.48 L110.84,165.93 L111.77,165.38 L112.71,164.82 L113.64,164.26 L114.57,163.69 L115.51,163.12 L116.44,162.55 L117.38,161.97 L118.31,161.39 L119.25,160.80 L120.18,160.22 L121.12,159.63 L122.05,159.04 L122.99,158.44 L123.92,157.85 L124.86,157.25 L125.79,156.65 L126.73,156.05 L127.66,155.45 L128.60,154.85 L129.53,154.24 L130.47,153.64 L131.40,153.04 L132.34,152.43 L133.27,151.83 L134.21,151.22 L135.14,150.62 L136.08,150.01 L137.01,149.41 L137.95,148.81 L138.88,148.20 L139.82,147.60 L140.75,147.00 L141.68,146.40 L142.62,145.80 L143.55,145.21 L144.49,144.61 L145.42,144.02 L146.36,143.42 L147.29,142.83 L148.23,142.24 L149.16,141.65 L150.10,141.07 L151.03,140.48 L151.97,139.90 L152.90,139.32 L153.84,138.74 L154.77,138.17 L155.71,137.59 L156.64,137.02 L157.58,136.45 L158.51,135.89 L159.45,135.32 L160.38,134.76 L161.32,134.20 L162.25,133.64 L163.19,133.09 L164.12,132.54 L165.06,131.99 L165.99,131.44 L166.93,130.90 L167.86,130.36 L168.80,129.82 L169.73,129.28 L170.66,128.75 L171.60,128.22 L172.53,127.69 L173.47,127.17 L174.40,126.65 L175.34,126.13 L176.27,125.61 L177.21,125.10 L178.14,124.59 L179.08,124.08 L180.01,123.58 L180.95,123.08 L181.88,122.58 L182.82,122.08 L183.75,121.59 L184.69,121.10 L185.62,120.61 L186.56,120.13 L187.49,119.65 L188.43,119.17 L189.36,118.69 L190.30,118.22 L191.23,117.75 L192.17,117.29 L193.10,116.82 L194.04,116.36 L194.97,115.90 L195.91,115.45 L196.84,115.00 L197.78,114.55 L198.71,114.10 L199.64,113.66 L200.58,113.22 L201.51,112.78 L202.45,112.35 L203.38,111.91 L204.32,111.48 L205.25,111.06 L206.19,110.63 L207.12,110.21 L208.06,109.80 L208.99,109.38 L209.93,108.97 L210.86,108.56 L211.80,108.15 L212.73,107.75 L213.67,107.34 L214.60,106.95 L215.54,106.55 L216.47,106.16 L217.41,105.76 L218.34,105.38 L219.28,104.99 L220.21,104.61 L221.15,104.23 L222.08,103.85 L223.02,103.47 L223.95,103.10 L224.89,102.73 L225.82,102.36 L226.76,102.00 L227.69,101.63 L228.62,101.27 L229.56,100.91 L230.49,100.56 L231.43,100.21 L232.36,99.86 L233.30,99.51 L234.23,99.16 L235.17,98.82 L236.10,98.48 L237.04,98.14 L237.97,97.80 L238.91,97.47 L239.84,97.14 L240.78,96.81 L241.71,96.48 L242.65,96.15 L243.58,95.83 L244.52,95.51 L245.45,95.19 L246.39,94.88 L247.32,94.56 L248.26,94.25 L249.19,93.94 L250.13,93.63 L251.06,93.33 L252.00,93.03 L252.93,92.73 L253.87,92.43 L254.80,92.13 L255.74,91.83 L256.67,91.54 L257.60,91.25 L258.54,90.96 L259.47,90.67 L260.41,90.39 L261.34,90.11 L262.28,89.83 L263.21,89.55 L264.15,89.27 L265.08,89.00 L266.02,88.72 L266.95,88.45 L267.89,88.18 L268.82,87.91 L269.76,87.65 L270.69,87.38 L271.63,87.12 L272.56,86.86 L273.50,86.60 L274.43,86.35 L275.37,86.09 L276.30,85.84 L277.24,85.59 L278.17,85.34 L279.11,85.09 L280.04,84.84 L280.98,84.60 L281.91,84.35 L282.85,84.11 L283.78,83.87 L284.72,83.63 L285.65,83.40 L286.58,83.16 L287.52,82.93 L288.45,82.70 L289.39,82.47 L290.32,82.24 L291.26,82.01 L292.19,81.79 L293.13,81.56 L294.06,81.34 L295.00,81.12 L295.93,80.90 L296.87,80.68 L297.80,80.46 L298.74,80.25 L299.67,80.04 L300.61,79.82 L301.54,79.61 L302.48,79.40 L303.41,79.20 L304.35,78.99 L305.28,78.78 L306.22,78.58 L307.15,78.38 L308.09,78.18 L309.02,77.98 L309.96,77.78 L310.89,77.58 L311.83,77.39 L312.76,77.19 L313.69,77.00 L314.63,76.81 L315.56,76.62 L316.50,76.43 L317.43,76.24 L318.37,76.05 L319.30,75.87 L320.24,75.68 L321.17,75.50 L322.11,75.32 L323.04,75.14 L323.98,74.96 L324.91,74.78 L325.85,74.60 L326.78,74.42 L327.72,74.25 L328.65,74.07 L329.59,73.90 L330.52,73.73 L331.46,73.56 L332.39,73.39 L333.33,73.22 L334.26,73.06 L335.20,72.89 L336.13,72.72 L337.07,72.56 L338.00,72.40 L338.94,72.24 L339.87,72.07 L340.81,71.91 L341.74,71.76 L342.67,71.60 L343.61,71.44 L344.54,71.29 L345.48,71.13 L346.41,70.98 L347.35,70.82 L348.28,70.67 L349.22,70.52 L350.15,70.37 L351.09,70.22 L352.02,70.07 L352.96,69.93 L353.89,69.78 L354.83,69.64 L355.76,69.49 L356.70,69.35 L357.63,69.21 L358.57,69.06 L359.50,68.92 L360.44,68.78 L361.37,68.64 L362.31,68.51 L363.24,68.37 L364.18,68.23 L365.11,68.10 L366.05,67.96 L366.98,67.83 L367.92,67.70 L368.85,67.56 L369.79,67.43 L370.72,67.30 L371.65,67.17 L372.59,67.04 L373.52,66.91 L374.46,66.79 L375.39,66.66 L376.33,66.53 L377.26,66.41 L378.20,66.28 L379.13,66.16 L380.07,66.04 L381.00,65.92 L381.94,65.79 L382.87,65.67 L383.81,65.55 L384.74,65.43 L385.68,65.32 L386.61,65.20 L387.55,65.08 L388.48,64.97 L389.42,64.85 L390.35,64.73 L391.29,64.62 L392.22,64.51 L393.16,64.39 L394.09,64.28 L395.03,64.17 L395.96,64.06 L396.90,63.95 L397.83,63.84 L398.77,63.73 L399.70,63.62 L400.59,63.52" fill="none" stroke="#00a500" stroke-width="2.35" stroke-dasharray="2.8 4.25 7.63 4.25"/>
</g>
</svg>
</body></html>
